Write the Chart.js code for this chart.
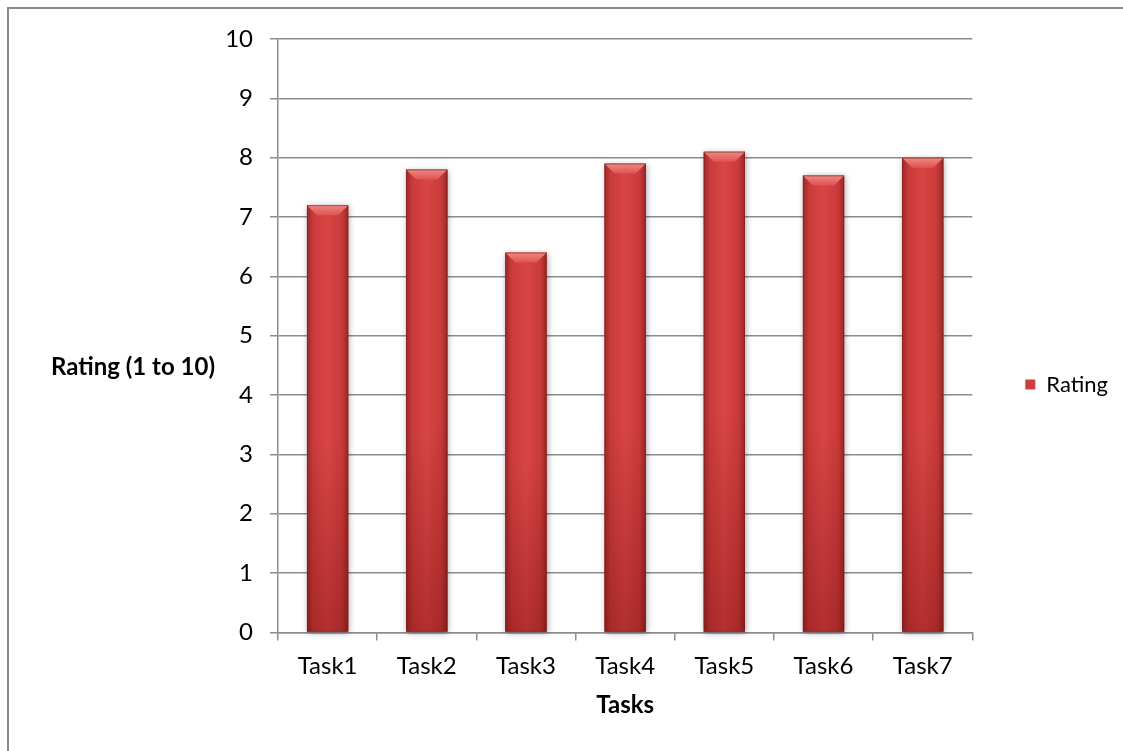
<!DOCTYPE html>
<html>
<head>
<meta charset="utf-8">
<script src="https://cdn.jsdelivr.net/npm/chart.js@4"></script>
<style>
  html, body { margin: 0; padding: 0; background: #fff; overflow: hidden; }
  #wrap { position: relative; width: 1123px; height: 751px; }
  #frame { position: absolute; left: 7px; top: 7px; width: 1200px; height: 800px; border: 2px solid #8a8a8a; }
  #chart { position: absolute; left: 0; top: 0; }
</style>
</head>
<body>
<div id="wrap">
  <div id="frame"></div>
  <canvas id="chart" width="1123" height="751"></canvas>
</div>
<script>
const categories = ['Task1', 'Task2', 'Task3', 'Task4', 'Task5', 'Task6', 'Task7'];
const ratings = [7.2, 7.8, 6.4, 7.9, 8.1, 7.7, 8.0];
const yMin = 0;
const yMax = 10;
const yStep = 1;
const seriesName = 'Rating';
const yTitle = 'Rating (1 to 10)';
const xTitle = 'Tasks';

const FONT = 'Lato, "Open Sans", sans-serif';
const GRID = '#8c8c8c';

// paints the bevelled red look over each bar, using the positions chart.js computed
const bevelBars = {
  id: 'bevelBars',
  afterDatasetsDraw(chart) {
    const ctx = chart.ctx;
    chart.getDatasetMeta(0).data.forEach(bar => {
      const { x, y, base, width } = bar.getProps(['x', 'y', 'base', 'width'], true);
      const l = x - width / 2, r = x + width / 2, h = base - y;
      ctx.save();
      ctx.shadowColor = 'rgba(0,0,0,0.35)';
      ctx.shadowBlur = 6;
      ctx.shadowOffsetX = 1;
      ctx.shadowOffsetY = 1;
      const g = ctx.createLinearGradient(l, 0, r, 0);
      g.addColorStop(0, '#9c2a28');
      g.addColorStop(0.15, '#c93b3a');
      g.addColorStop(0.5, '#d94545');
      g.addColorStop(0.85, '#c83a39');
      g.addColorStop(1, '#982826');
      ctx.fillStyle = g;
      ctx.fillRect(l, y, width, h);
      ctx.shadowColor = 'transparent';
      const v = ctx.createLinearGradient(0, y, 0, base);
      v.addColorStop(0, 'rgba(90,0,0,0)');
      v.addColorStop(0.55, 'rgba(90,0,0,0)');
      v.addColorStop(1, 'rgba(90,0,0,0.3)');
      ctx.fillStyle = v;
      ctx.fillRect(l, y, width, h);
      const b = Math.min(10, h);
      const t = ctx.createLinearGradient(0, y, 0, y + b);
      t.addColorStop(0, '#f08884');
      t.addColorStop(1, '#de5350');
      ctx.fillStyle = t;
      ctx.beginPath();
      ctx.moveTo(l, y);
      ctx.lineTo(r, y);
      ctx.lineTo(r - b, y + b);
      ctx.lineTo(l + b, y + b);
      ctx.closePath();
      ctx.fill();
      ctx.strokeStyle = 'rgba(120,30,30,0.5)';
      ctx.lineWidth = 1;
      ctx.strokeRect(l + 0.5, y + 0.5, width - 1, h - 1);
      ctx.restore();
    });
  }
};

// horizontal y-axis title to the left of the tick labels
const sideTitle = {
  id: 'sideTitle',
  afterDraw(chart) {
    const { ctx, chartArea } = chart;
    ctx.save();
    ctx.font = 'bold 24px ' + FONT;
    ctx.fillStyle = '#000';
    ctx.textAlign = 'right';
    ctx.textBaseline = 'middle';
    ctx.fillText(yTitle, chartArea.left - 63, (chartArea.top + chartArea.bottom) / 2 + 32);
    ctx.restore();
  }
};

new Chart(document.getElementById('chart'), {
  type: 'bar',
  data: {
    labels: categories,
    datasets: [{
      label: seriesName,
      data: ratings,
      backgroundColor: '#cf3e3d',
      borderWidth: 0,
      categoryPercentage: 0.8,
      barPercentage: 0.52
    }]
  },
  options: {
    responsive: false,
    animation: false,
    layout: { padding: { left: 0, top: 39, right: 5, bottom: 31 } },
    plugins: {
      legend: {
        position: 'right',
        // empty title only nudges the entry down a little
        title: { display: true, text: '', font: { size: 10, lineHeight: 1 }, padding: 0 },
        labels: { font: { family: FONT, size: 22 }, color: '#000', boxWidth: 10, boxHeight: 10, padding: 10 }
      },
      tooltip: { enabled: false }
    },
    scales: {
      x: {
        grid: { drawOnChartArea: false, drawTicks: true, tickLength: 8, color: GRID, lineWidth: 1.5 },
        border: { color: GRID, width: 1.5 },
        ticks: { font: { family: FONT, size: 24 }, color: '#000', padding: 11 },
        title: { display: true, text: xTitle, font: { family: FONT, size: 24, weight: 'bold' }, color: '#000', padding: { top: 0, bottom: 0 } }
      },
      y: {
        min: yMin,
        max: yMax,
        grid: { color: GRID, lineWidth: 1.5, tickLength: 8 },
        border: { color: GRID, width: 1.5 },
        ticks: { stepSize: yStep, font: { family: FONT, size: 24 }, color: '#000', padding: 17 },
        afterFit(scale) { scale.width = 278; }
      },
      gap: {
        type: 'linear',
        position: 'right',
        display: true,
        grid: { display: false },
        border: { display: false },
        ticks: { display: false },
        afterFit(scale) { scale.width = 43; }
      }
    }
  },
  plugins: [bevelBars, sideTitle]
});
</script>
</body>
</html>
